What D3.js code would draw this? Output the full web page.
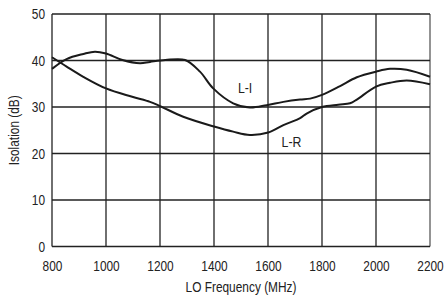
<!DOCTYPE html>
<html><head><meta charset="utf-8">
<script src="https://cdn.jsdelivr.net/npm/d3@7"></script>
<style>
html,body{margin:0;padding:0;background:#fff;}
text{font-family:"Liberation Sans Narrow","Arial Narrow","Liberation Sans",Arial,sans-serif;fill:#222;}
</style></head>
<body><svg id="chart" width="444" height="298"></svg>
<script>
const xTicks = [800,1000,1200,1400,1600,1800,2000,2200];
const yTicks = [0,10,20,30,40,50];
const freqLI = [800,854,916,959,1000,1061,1126,1163,1220,1293,1348,1397,1471,1533,1595,1657,1719,1756,1800,1867,1929,2000,2052,2114,2200];
const isoLI  = [38.2,40.3,41.4,41.9,41.5,40.1,39.4,39.7,40.1,40.1,37.6,34.0,30.8,29.9,30.4,31.1,31.6,31.8,32.6,34.5,36.4,37.6,38.2,38.0,36.5];
const freqLR = [800,854,916,1000,1097,1163,1200,1286,1400,1471,1533,1601,1657,1719,1743,1800,1860,1904,1929,2000,2052,2114,2200];
const isoLR  = [40.7,38.7,36.5,34.0,32.2,31.1,30.2,27.9,25.8,24.7,24.0,24.5,26.1,27.6,28.6,30.0,30.5,30.8,31.6,34.4,35.2,35.7,34.9];
const labels = [{text:"L-I", f:1515, v:33.0},{text:"L-R", f:1687, v:21.5}];

const SX = 0.82; // horizontal squeeze to imitate a narrow face
const svg = d3.select("#chart");
const m = {l:52, r:14, t:14, b:51.5};
const W = 444, H = 298;
const x = d3.scaleLinear().domain([800,2200]).range([m.l, W-m.r]);
const y = d3.scaleLinear().domain([0,50]).range([H-m.b, m.t]);

const g = svg.append("g");
g.selectAll(".vg").data(xTicks).enter().append("line")
  .attr("x1",d=>x(d)).attr("x2",d=>x(d)).attr("y1",y(0)).attr("y2",y(50))
  .attr("stroke",d=>d===2200?"#666":"#333").attr("stroke-width",1.4);
g.selectAll(".hg").data(yTicks).enter().append("line")
  .attr("x1",x(800)).attr("x2",x(2200)).attr("y1",d=>y(d)).attr("y2",d=>y(d))
  .attr("stroke","#222").attr("stroke-width",1.4);

const xa = d3.axisBottom(x).tickValues(xTicks).tickFormat(d3.format("d")).tickSize(0).tickPadding(14);
svg.append("g").attr("transform",`translate(0,${y(0)})`).call(xa)
  .call(s=>s.select(".domain").remove())
  .selectAll("text").style("font-size","14.5px").attr("fill","#222")
  .attr("transform",`scale(${SX},1)`);
const ya = d3.axisLeft(y).tickValues(yTicks).tickFormat(d3.format("d")).tickSize(0);
svg.append("g").attr("transform",`translate(${x(800)},0)`).call(ya)
  .call(s=>s.select(".domain").remove())
  .selectAll("text").style("font-size","14.5px").attr("fill","#222")
  .attr("x",0).attr("transform",`translate(-7,0) scale(${SX},1)`);

svg.append("text").attr("transform",`translate(${(x(800)+x(2200))/2},292) scale(${SX},1)`)
  .attr("text-anchor","middle").style("font-size","14.5px").text("LO Frequency (MHz)");
svg.append("text").attr("transform",`translate(19,${(y(0)+y(50))/2}) rotate(-90) scale(${SX},1)`)
  .attr("text-anchor","middle").style("font-size","14.5px").text("Isolation (dB)");

const line = d3.line().x(d=>x(d[0])).y(d=>y(d[1])).curve(d3.curveCatmullRom.alpha(0.5));
svg.append("path").datum(freqLI.map((f,i)=>[f,isoLI[i]]))
  .attr("d",line).attr("fill","none").attr("stroke","#1a1a1a").attr("stroke-width",2);
svg.append("path").datum(freqLR.map((f,i)=>[f,isoLR[i]]))
  .attr("d",line).attr("fill","none").attr("stroke","#1a1a1a").attr("stroke-width",2);

svg.selectAll(".lbl").data(labels).enter().append("text")
  .attr("transform",d=>`translate(${x(d.f)},${y(d.v)}) scale(${SX},1)`).attr("text-anchor","middle")
  .style("font-size","15px").text(d=>d.text);
</script></body></html>
